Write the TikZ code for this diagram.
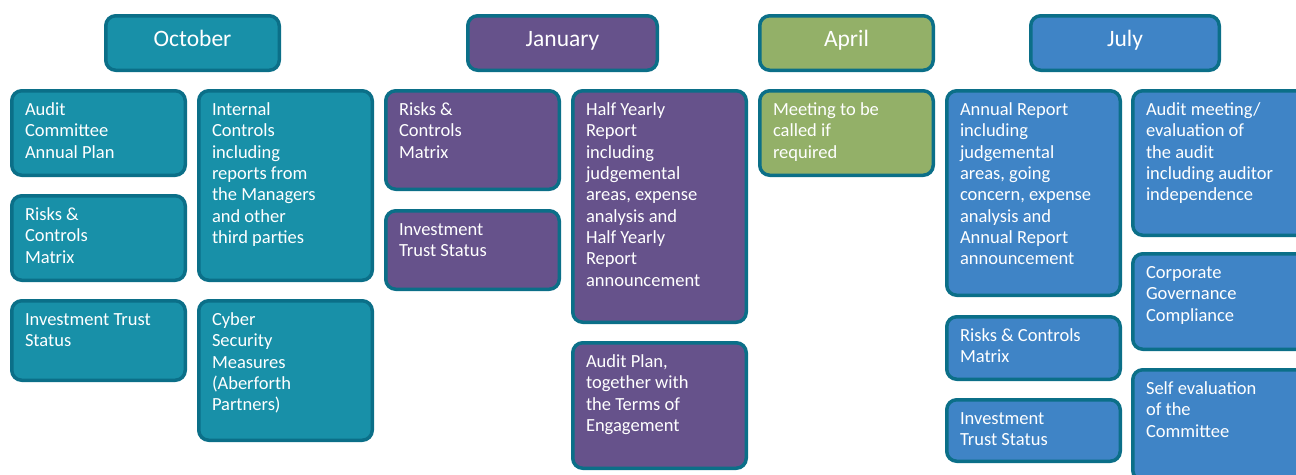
\documentclass[tikz,border=0pt]{standalone}
\usepackage{fontspec}
\setmainfont{Carlito}
\usetikzlibrary{positioning}
\definecolor{edge}{HTML}{0B6F88}
\definecolor{octfill}{HTML}{1890A8}
\definecolor{janfill}{HTML}{66528B}
\definecolor{aprfill}{HTML}{93B068}
\definecolor{julfill}{HTML}{3F84C6}
\newcommand{\cardtext}[2]{\parbox[t][\dimexpr#1pt-20pt\relax][t]{147pt}{\raggedright\strut#2}}

\begin{document}
\begin{tikzpicture}[x=1pt,y=-1pt,
        month/.style={draw=edge, line width=3.5pt, rounded corners=10pt,
            minimum width=173.5pt, minimum height=54.5pt, anchor=north west,
            inner sep=0pt, text=white, text height=15pt, text depth=9pt,
            font=\fontsize{23.5}{28}\selectfont},
        card/.style={draw=edge, line width=3.5pt, rounded corners=10pt,
            anchor=north west, inner xsep=13.25pt, inner ysep=10pt, text=white,
            font=\fontsize{18.5}{21.3}\selectfont},
        oct/.style={fill=octfill},
        jan/.style={fill=janfill},
        apr/.style={fill=aprfill},
        jul/.style={fill=julfill}]
        \useasboundingbox (0,0) rectangle (1296,474);
        \clip (0,0) rectangle (1296,474);

        % month headers
        \node [month,oct] (oct) at (104,14) {October};
        \node [month,jan,minimum width=189.5pt] (jan) at (466,14) {January};
        \node [month,apr] (apr) at (758,14) {April};
        \node [month,jul,minimum width=188.5pt] (jul) at (1029,14) {July};

        % October
        \node [card,oct] (oct1) at (10,89) {\cardtext{84.5}{Audit\\Committee\\Annual Plan}};
        \node [card,oct] (oct2) at (10,194) {\cardtext{84.5}{Risks \&\\Controls\\Matrix}};
        \node [card,oct] (oct3) at (10,299) {\cardtext{79.5}{Investment Trust\\Status}};
        \node [card,oct] (oct4) at (197,89) {\cardtext{189.5}{Internal\\Controls\\including\\reports from\\the Managers\\and other\\third parties}};
        \node [card,oct] (oct5) at (197,299) {\cardtext{139.5}{Cyber\\Security\\Measures\\(Aberforth\\Partners)}};

        % January
        \node [card,jan] (jan1) at (384,89) {\cardtext{98.5}{Risks \&\\Controls\\Matrix}};
        \node [card,jan] (jan2) at (384,209) {\cardtext{78.5}{Investment\\Trust Status}};
        \node [card,jan] (jan3) at (571,89) {\cardtext{231.5}{Half Yearly\\Report\\including\\judgemental\\areas, expense\\analysis and\\Half Yearly\\Report\\announcement}};
        \node [card,jan] (jan4) at (571,341) {\cardtext{125.5}{Audit Plan,\\together with\\the Terms of\\Engagement}};

        % April
        \node [card,apr] (apr1) at (758,89) {\cardtext{84.5}{Meeting to be\\called if\\required}};

        % July
        \node [card,jul] (jul1) at (945,89) {\cardtext{204.5}{Annual Report\\including\\judgemental\\areas, going\\concern, expense\\analysis and\\Annual Report\\announcement}};
        \node [card,jul] (jul2) at (945,315) {\cardtext{62.5}{Risks \& Controls\\Matrix}};
        \node [card,jul] (jul3) at (945,398) {\cardtext{61.5}{Investment\\Trust Status}};
        \node [card,jul] (jul4) at (1131,89) {\cardtext{144.5}{Audit meeting/\\evaluation of\\the audit\\including auditor\\independence}};
        \node [card,jul] (jul5) at (1131,252) {\cardtext{95.5}{Corporate\\Governance\\Compliance}};
        \node [card,jul] (jul6) at (1131,368) {\cardtext{110.5}{Self evaluation\\of the\\Committee}};
    \end{tikzpicture}
\end{document}
